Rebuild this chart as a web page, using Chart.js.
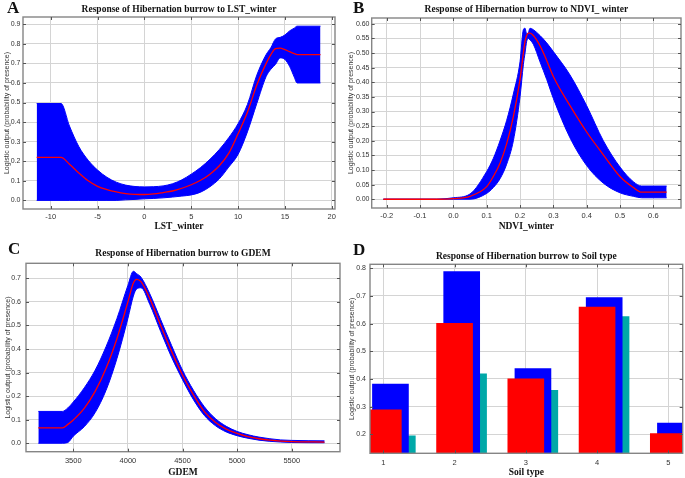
<!DOCTYPE html>
<html><head><meta charset="utf-8">
<script src="https://cdn.jsdelivr.net/npm/chart.js@4/dist/chart.umd.min.js"></script>
<style>
html,body{margin:0;padding:0;background:#fff;}
#wrap{position:relative;width:685px;height:478px;overflow:hidden;background:#fff;}
canvas{position:absolute;}
.lbl{position:absolute;font-family:"Liberation Serif",serif;font-weight:bold;font-size:17px;line-height:17px;color:#111;}
</style></head><body>
<div id="wrap">
<canvas id="cA" width="342" height="235" style="left:0;top:0"></canvas>
<canvas id="cB" width="343" height="235" style="left:342px;top:0"></canvas>
<canvas id="cC" width="342" height="243" style="left:0;top:235px"></canvas>
<canvas id="cD" width="343" height="243" style="left:342px;top:235px"></canvas>
<div class="lbl" style="left:7px;top:-1px">A</div>
<div class="lbl" style="left:353px;top:-1px">B</div>
<div class="lbl" style="left:8px;top:240px">C</div>
<div class="lbl" style="left:353px;top:241px">D</div>
</div>
<script>
// ---- Panel A: LST_winter ----
const lstX     = [-11.5, -8.9, -8, -7, -6, -5, -4, -3, -2, -1, 0, 1, 2, 3, 4, 5, 6, 7, 8, 9, 10, 11, 12, 13, 13.5, 14, 14.5, 15, 15.5, 16, 16.3, 18.8];
const lstMean  = [0.22, 0.22, 0.185, 0.14, 0.10, 0.072, 0.055, 0.043, 0.035, 0.031, 0.03, 0.033, 0.04, 0.048, 0.062, 0.08, 0.103, 0.134, 0.177, 0.24, 0.34, 0.45, 0.59, 0.70, 0.745, 0.775, 0.778, 0.77, 0.76, 0.75, 0.745, 0.745];
const lstUpper = [0.495, 0.495, 0.38, 0.275, 0.205, 0.155, 0.118, 0.093, 0.078, 0.071, 0.069, 0.07, 0.074, 0.085, 0.105, 0.134, 0.168, 0.21, 0.26, 0.32, 0.392, 0.49, 0.64, 0.745, 0.78, 0.825, 0.833, 0.845, 0.866, 0.88, 0.89, 0.89];
const lstLower = [0, 0, 0, 0, 0, 0, 0, 0, 0.003, 0.005, 0.008, 0.01, 0.013, 0.017, 0.022, 0.028, 0.042, 0.07, 0.11, 0.17, 0.235, 0.35, 0.495, 0.633, 0.67, 0.695, 0.728, 0.72, 0.685, 0.63, 0.6, 0.6];
const lstTicksX = [-10, -5, 0, 5, 10, 15, 20];
const lstTicksY = [0, 0.1, 0.2, 0.3, 0.4, 0.5, 0.6, 0.7, 0.8, 0.9];

// ---- Panel B: NDVI_winter ----
const ndviX     = [-0.21, -0.1, -0.05, 0, 0.05, 0.1, 0.12, 0.14, 0.16, 0.18, 0.2, 0.21, 0.215, 0.22, 0.225, 0.23, 0.24, 0.26, 0.28, 0.3, 0.35, 0.4, 0.45, 0.5, 0.54, 0.565, 0.64];
const ndviMean  = [0, 0, 0, 0.002, 0.01, 0.043, 0.078, 0.123, 0.19, 0.283, 0.41, 0.5, 0.54, 0.56, 0.568, 0.568, 0.56, 0.525, 0.475, 0.42, 0.32, 0.23, 0.152, 0.078, 0.04, 0.024, 0.024];
const ndviUpper = [0, 0, 0, 0.005, 0.018, 0.095, 0.14, 0.2, 0.27, 0.36, 0.47, 0.58, 0.585, 0.565, 0.57, 0.585, 0.58, 0.56, 0.535, 0.505, 0.425, 0.32, 0.2, 0.11, 0.06, 0.045, 0.045];
const ndviLower = [0, 0, 0, 0, 0, 0.02, 0.04, 0.07, 0.12, 0.2, 0.35, 0.46, 0.5, 0.54, 0.55, 0.545, 0.53, 0.47, 0.41, 0.345, 0.21, 0.115, 0.055, 0.022, 0.01, 0.005, 0.005];
const ndviTicksX = [-0.2, -0.1, 0, 0.1, 0.2, 0.3, 0.4, 0.5, 0.6];
const ndviTicksY = [0, 0.05, 0.1, 0.15, 0.2, 0.25, 0.3, 0.35, 0.4, 0.45, 0.5, 0.55, 0.6];

// ---- Panel C: GDEM ----
const demX     = [3180, 3400, 3450, 3500, 3600, 3700, 3800, 3900, 4000, 4050, 4080, 4120, 4200, 4300, 4400, 4500, 4600, 4700, 4800, 4900, 5000, 5100, 5200, 5300, 5400, 5500, 5800];
const demMean  = [0.065, 0.065, 0.08, 0.099, 0.148, 0.22, 0.318, 0.445, 0.60, 0.68, 0.696, 0.686, 0.615, 0.5, 0.39, 0.29, 0.205, 0.134, 0.089, 0.06, 0.042, 0.028, 0.019, 0.013, 0.009, 0.007, 0.005];
const demUpper = [0.135, 0.135, 0.15, 0.175, 0.235, 0.31, 0.41, 0.53, 0.67, 0.73, 0.72, 0.705, 0.635, 0.525, 0.415, 0.31, 0.225, 0.155, 0.105, 0.072, 0.05, 0.036, 0.026, 0.019, 0.014, 0.012, 0.01];
const demLower = [0, 0, 0.003, 0.03, 0.07, 0.13, 0.225, 0.36, 0.53, 0.625, 0.655, 0.66, 0.59, 0.475, 0.365, 0.27, 0.185, 0.118, 0.075, 0.048, 0.032, 0.021, 0.013, 0.008, 0.005, 0.003, 0.002];
const demTicksX = [3500, 4000, 4500, 5000, 5500];
const demTicksY = [0, 0.1, 0.2, 0.3, 0.4, 0.5, 0.6, 0.7];

// ---- Panel D: Soil type ----
const soilCats = [1, 2, 3, 4, 5];
const soilRed  = [0.288, 0.601, 0.40, 0.66, 0.202];
const soilBlue = [0.381, 0.788, 0.437, 0.694, 0.24];
const soilTeal = [0.194, 0.418, 0.359, 0.625, null];
const soilTicksY = [0.2, 0.3, 0.4, 0.5, 0.6, 0.7, 0.8];

const Y_TITLE = 'Logistic output (probability of presence)';
const XTICK_FONT = {family: '"Liberation Sans", Arial, sans-serif', size: 7.5};
const YTICK_FONT = {family: '"Liberation Sans", Arial, sans-serif', size: 7};
const TICK_COLOR = '#333';
const SERIF_BOLD = (s) => ({family: '"Liberation Serif", "Times New Roman", serif', size: s, weight: 'bold'});
const GRID = '#d4d4d4';

const framePlugin = {
  id: 'frame',
  afterDraw(chart) {
    const {ctx, chartArea: a} = chart;
    ctx.save();
    ctx.strokeStyle = '#858585';
    ctx.lineWidth = 1.4;
    ctx.strokeRect(a.left, a.top, a.right - a.left, a.bottom - a.top);
    ctx.lineWidth = 1;
    ctx.strokeStyle = '#555';
    const xs = chart.scales.x, ys = chart.scales.y;
    ctx.beginPath();
    xs.ticks.forEach(t => {
      const p = Math.round(xs.getPixelForValue(t.value)) + 0.5;
      ctx.moveTo(p, a.top); ctx.lineTo(p, a.top + 3);
      ctx.moveTo(p, a.bottom); ctx.lineTo(p, a.bottom - 3);
    });
    ys.ticks.forEach(t => {
      const p = Math.round(ys.getPixelForValue(t.value)) + 0.5;
      ctx.moveTo(a.left, p); ctx.lineTo(a.left + 3, p);
      ctx.moveTo(a.right, p); ctx.lineTo(a.right - 3, p);
    });
    ctx.stroke();
    ctx.restore();
  }
};

function scales(L) {
  return {
    x: {
      type: 'linear', min: L.xMin, max: L.xMax, offset: false,
      grid: {color: GRID, drawTicks: false, offset: false},
      border: {display: false},
      afterBuildTicks(s) { s.ticks = L.xTicks.map(v => ({value: v})); },
      ticks: {autoSkip: false, maxRotation: 0,
              padding: L.xTickPad, font: XTICK_FONT, color: TICK_COLOR, callback: L.xFmt},
      title: {display: true, text: L.xTitle, font: SERIF_BOLD(9.5), color: '#111', padding: {top: 0, bottom: L.xTitlePb}},
      afterFit(s) { s.height = L.xH; }
    },
    y: {
      type: 'linear', min: L.yMin, max: L.yMax,
      grid: {color: GRID, drawTicks: false},
      border: {display: false},
      afterBuildTicks(s) { s.ticks = L.yTicks.map(v => ({value: v})); },
      ticks: {autoSkip: false,
              padding: L.yTickPad, font: YTICK_FONT, color: TICK_COLOR, callback: L.yFmt},
      title: {display: true, text: Y_TITLE, font: {family: '"Liberation Sans", Arial, sans-serif', size: 7}, color: '#333', padding: {top: L.yTitlePt, bottom: 0}},
      afterFit(s) { s.width = L.yW; }
    }
  };
}

function commonOptions(L) {
  return {
    responsive: false, animation: false, devicePixelRatio: 1,
    layout: {padding: {left: 0, right: L.padR, top: 0, bottom: 0}},
    plugins: {
      legend: {display: false}, tooltip: {enabled: false},
      title: {display: true, text: L.title, fullSize: false, font: SERIF_BOLD(9.5), color: '#111',
              padding: {top: L.tTop, bottom: L.tBot}}
    },
    scales: scales(L)
  };
}

function bandChart(id, xs, mean, upper, lower, L) {
  const pts = arr => xs.map((x, i) => ({x: x, y: arr[i]}));
  new Chart(document.getElementById(id), {
    type: 'line',
    data: {
      datasets: [
        {data: pts(mean), borderColor: '#ff0000', borderWidth: 1.3, pointRadius: 0, fill: false, cubicInterpolationMode: 'monotone'},
        {data: pts(upper), borderColor: '#0000ff', backgroundColor: '#0000ff', borderWidth: 1, pointRadius: 0, fill: '+1', cubicInterpolationMode: 'monotone'},
        {data: pts(lower), borderColor: '#0000ff', borderWidth: 1, pointRadius: 0, fill: false, cubicInterpolationMode: 'monotone'}
      ]
    },
    options: commonOptions(L),
    plugins: [framePlugin]
  });
}

bandChart('cA', lstX, lstMean, lstUpper, lstLower, {
  title: 'Response of Hibernation burrow to LST_winter', xTitle: 'LST_winter',
  xMin: -12.96, xMax: 20.35, yMin: -0.044, yMax: 0.937, xTicks: lstTicksX, yTicks: lstTicksY,
  xFmt: v => String(v), yFmt: v => v.toFixed(1),
  yW: 23, xH: 26, padR: 7, tTop: 3.6, tBot: 2, xTickPad: 3, xTitlePb: 2.6, yTitlePt: 2.6, yTickPad: 2.5
});

bandChart('cB', ndviX, ndviMean, ndviUpper, ndviLower, {
  title: 'Response of Hibernation burrow to NDVI_ winter', xTitle: 'NDVI_winter',
  xMin: -0.245, xMax: 0.683, yMin: -0.03, yMax: 0.62, xTicks: ndviTicksX, yTicks: ndviTicksY,
  xFmt: v => v.toFixed(1), yFmt: v => v.toFixed(2),
  yW: 29.7, xH: 27, padR: 4, tTop: 4.3, tBot: 2.3, xTickPad: 3.9, xTitlePb: 2.3, yTitlePt: 4.8, yTickPad: 2.2
});

bandChart('cC', demX, demMean, demUpper, demLower, {
  title: 'Response of Hibernation burrow to GDEM', xTitle: 'GDEM',
  xMin: 3067, xMax: 5942, yMin: -0.036, yMax: 0.764, xTicks: demTicksX, yTicks: demTicksY,
  xFmt: v => String(Math.round(v)), yFmt: v => v.toFixed(1),
  yW: 26, xH: 26.3, padR: 2, tTop: 13.3, tBot: 3.6, xTickPad: 5.2, xTitlePb: 0, yTitlePt: 4.1, yTickPad: 5
});

// Panel D: categorical response bars
(function () {
  const L = {
    title: 'Response of Hibernation burrow to Soil type', xTitle: 'Soil type',
    xMin: 0.813, xMax: 5.202, yMin: 0.131, yMax: 0.8145, xTicks: soilCats, yTicks: soilTicksY,
    xFmt: v => String(v), yFmt: v => v.toFixed(1),
    yW: 28, xH: 24.7, padR: 2.3, tTop: 16, tBot: 1.9, xTickPad: 5.2, xTitlePb: 0, yTitlePt: 6, yTickPad: 4
  };
  const pts = (arr, shift) => soilCats.map((c, i) => ({x: c + shift, y: arr[i]})).filter(p => p.y !== null);
  new Chart(document.getElementById('cD'), {
    type: 'bar',
    data: {
      datasets: [
        {data: pts(soilRed, 0), backgroundColor: '#ff0000', barThickness: 36, grouped: false, order: 0},
        {data: pts(soilBlue, 0.1), backgroundColor: '#0000ff', barThickness: 36, grouped: false, order: 1},
        {data: pts(soilTeal, 0.4), backgroundColor: '#00a8a8', barThickness: 7, grouped: false, order: 2}
      ]
    },
    options: commonOptions(L),
    plugins: [framePlugin]
  });
})();
</script>
</body></html>
